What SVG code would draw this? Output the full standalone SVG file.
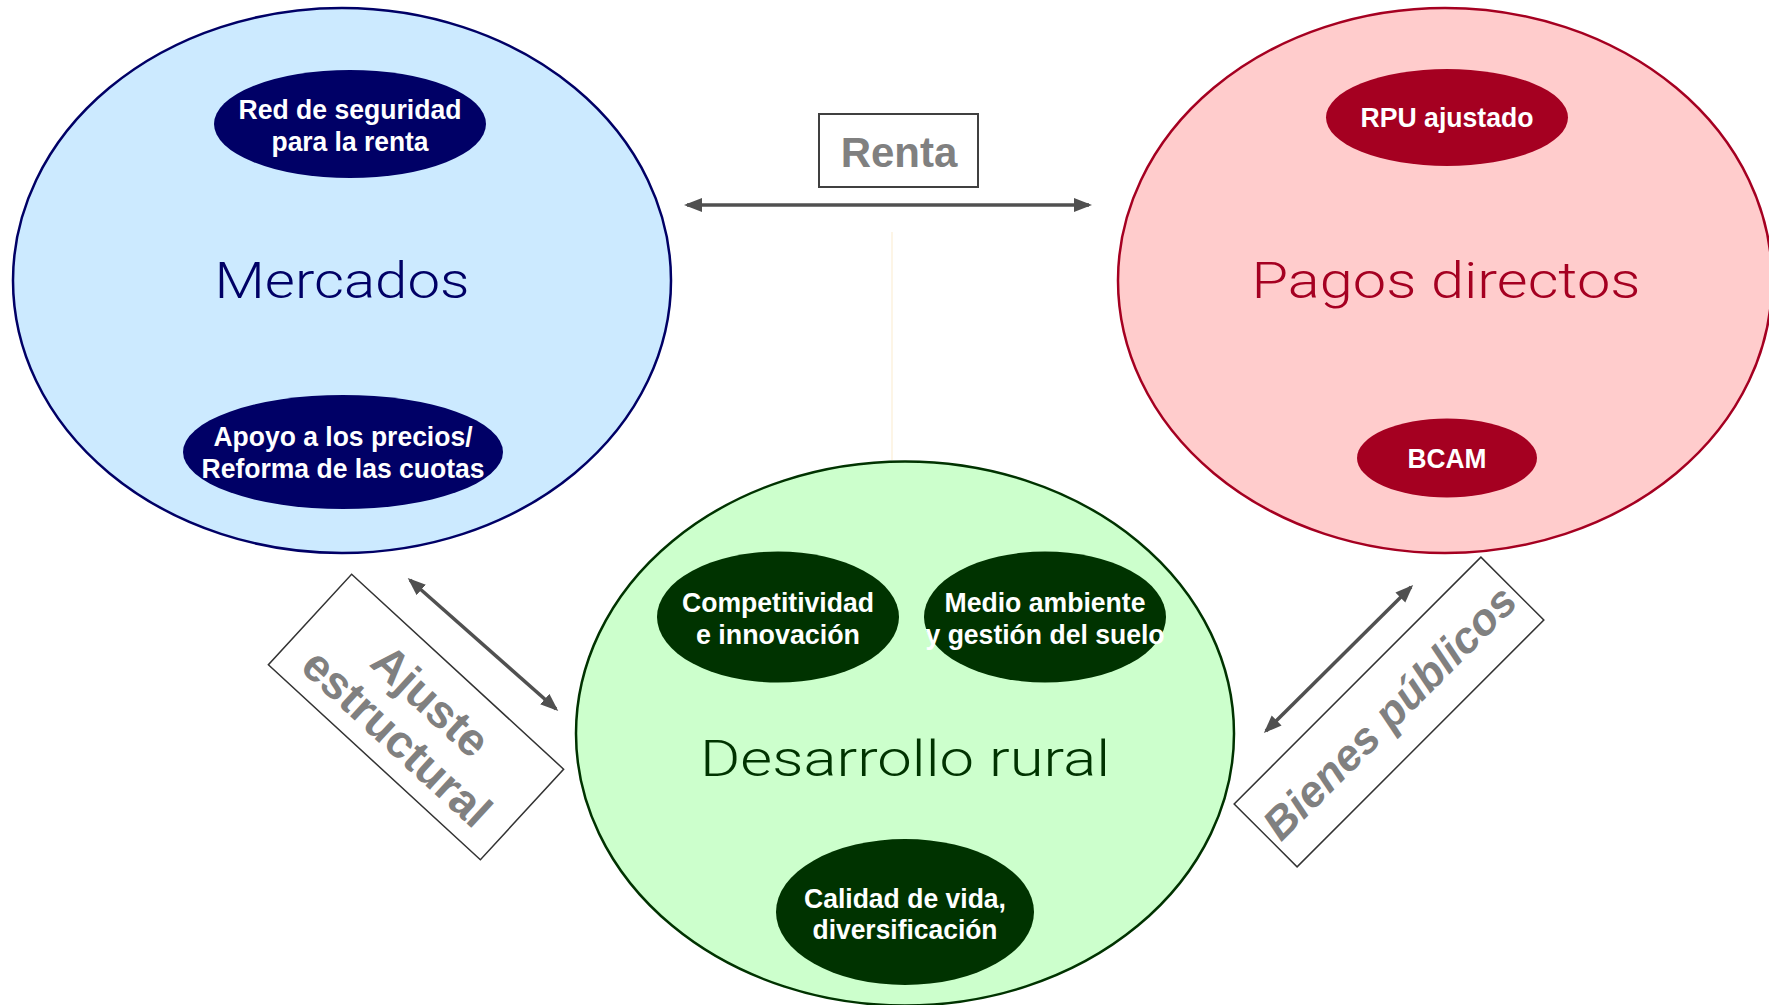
<svg xmlns="http://www.w3.org/2000/svg" width="1769" height="1005" viewBox="0 0 1769 1005">
<defs>
<style>
.big{font-family:"Roboto","Lato","Liberation Sans",sans-serif;font-weight:300;font-size:50px;text-anchor:middle}
.sm{font-family:"Liberation Sans",Arial,sans-serif;font-weight:bold;font-size:27px;fill:#ffffff;text-anchor:middle}
.lbl{font-family:"Liberation Sans",Arial,sans-serif;font-weight:bold;fill:#808080;text-anchor:middle}
.conn{stroke:#505050;stroke-width:3.5;fill:none;marker-start:url(#ah);marker-end:url(#ah)}
</style>
<marker id="ah" markerUnits="userSpaceOnUse" markerWidth="19" markerHeight="15" refX="15" refY="7" orient="auto-start-reverse" viewBox="0 0 19 14">
<path d="M0,0 L18,7 L0,14 z" fill="#505050"/>
</marker>
</defs>
<rect width="1769" height="1005" fill="#ffffff"/>

<line x1="892" y1="232" x2="892" y2="460" stroke="#fdf5e6" stroke-width="2"/>

<g id="mercados">
<ellipse cx="342" cy="280.5" rx="329" ry="272.5" fill="#cceaff" stroke="#000066" stroke-width="2.5"/>
<text class="big" x="342" y="298" fill="#000066" textLength="255" lengthAdjust="spacingAndGlyphs">Mercados</text>
</g>
<g id="red-seguridad">
<ellipse cx="350" cy="124" rx="136" ry="54" fill="#000066"/>
<text class="sm" x="350" y="119" textLength="223" lengthAdjust="spacingAndGlyphs">Red de seguridad</text>
<text class="sm" x="350" y="151" textLength="157" lengthAdjust="spacingAndGlyphs">para la renta</text>
</g>
<g id="apoyo-precios">
<ellipse cx="343" cy="452" rx="160" ry="57" fill="#000066"/>
<text class="sm" x="343" y="446" textLength="259" lengthAdjust="spacingAndGlyphs">Apoyo a los precios/</text>
<text class="sm" x="343" y="478" textLength="283" lengthAdjust="spacingAndGlyphs">Reforma de las cuotas</text>
</g>

<g id="pagos">
<ellipse cx="1445" cy="280.5" rx="327" ry="272.5" fill="#ffcccc" stroke="#a50021" stroke-width="2.5"/>
<text class="big" x="1446" y="298" fill="#a50021" textLength="389" lengthAdjust="spacingAndGlyphs">Pagos directos</text>
</g>
<g id="rpu">
<ellipse cx="1447" cy="117.5" rx="121" ry="48.5" fill="#a50021"/>
<text class="sm" x="1447" y="127" textLength="173" lengthAdjust="spacingAndGlyphs">RPU ajustado</text>
</g>
<g id="bcam">
<ellipse cx="1447" cy="458" rx="90" ry="39.5" fill="#a50021"/>
<text class="sm" x="1447" y="467.5" textLength="79" lengthAdjust="spacingAndGlyphs">BCAM</text>
</g>

<g id="desarrollo">
<ellipse cx="905" cy="733.5" rx="329" ry="272" fill="#ccffcc" stroke="#003300" stroke-width="2.5"/>
<text class="big" x="905" y="776" fill="#003300" textLength="410" lengthAdjust="spacingAndGlyphs">Desarrollo rural</text>
</g>
<g id="competitividad">
<ellipse cx="778" cy="617" rx="121" ry="65.5" fill="#003300"/>
<text class="sm" x="778" y="612" textLength="192" lengthAdjust="spacingAndGlyphs">Competitividad</text>
<text class="sm" x="778" y="644" textLength="164" lengthAdjust="spacingAndGlyphs">e innovación</text>
</g>
<g id="medio-ambiente">
<ellipse cx="1045" cy="617" rx="121" ry="65.5" fill="#003300"/>
<text class="sm" x="1045" y="612" textLength="201" lengthAdjust="spacingAndGlyphs">Medio ambiente</text>
<text class="sm" x="1045" y="644" textLength="239" lengthAdjust="spacingAndGlyphs">y gestión del suelo</text>
</g>
<g id="calidad">
<ellipse cx="905" cy="912" rx="129" ry="73" fill="#003300"/>
<text class="sm" x="905" y="907.5" textLength="202" lengthAdjust="spacingAndGlyphs">Calidad de vida,</text>
<text class="sm" x="905" y="939" textLength="185" lengthAdjust="spacingAndGlyphs">diversificación</text>
</g>

<g id="renta">
<rect x="819" y="114" width="159" height="73" fill="#ffffff" stroke="#404040" stroke-width="2"/>
<text class="lbl" x="899" y="167" font-size="42">Renta</text>
</g>
<g id="ajuste" transform="translate(416,717) rotate(42.6)">
<rect x="-144" y="-61.5" width="288" height="123" fill="#ffffff" stroke="#333333" stroke-width="1.5"/>
<text class="lbl" x="0" y="-6" font-size="46">Ajuste</text>
<text class="lbl" x="0" y="44" font-size="46">estructural</text>
</g>
<g id="bienes" transform="translate(1389,712) rotate(-45)">
<rect x="-174.5" y="-44.5" width="349" height="89" fill="#ffffff" stroke="#333333" stroke-width="1.5"/>
<text class="lbl" x="0" y="16" font-size="44" font-style="italic">Bienes públicos</text>
</g>

<g id="connectors">
<line class="conn" x1="687" y1="205" x2="1089" y2="205"/>
<line class="conn" x1="410" y1="580" x2="556" y2="709"/>
<line class="conn" x1="1411" y1="587" x2="1266" y2="731"/>
</g>
</svg>
